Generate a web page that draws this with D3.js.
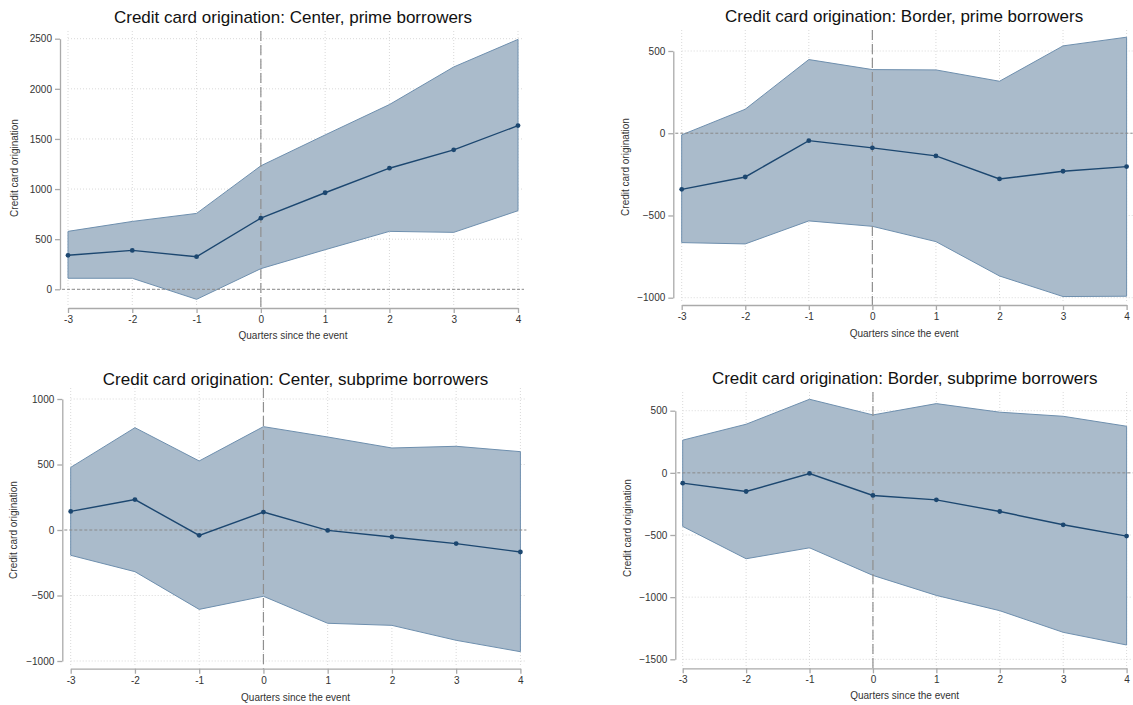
<!DOCTYPE html>
<html>
<head>
<meta charset="utf-8">
<script src="https://cdn.jsdelivr.net/npm/d3@7"></script>
<style>
	body { margin: 0; background: #fff; }
	svg { display: block; font-family: "Liberation Sans", Arial, sans-serif; }
	.tick text { fill: #333; font-size: 10px; }
</style>
</head>
<body>
<svg width="1133" height="705"></svg>
<script>
var quarters = [-3, -2, -1, 0, 1, 2, 3, 4];
var xTickLabels = ['-3', '-2', '-1', '0', '1', '2', '3', '4'];

var titles = [
	'Credit card origination: Center, prime borrowers',
	'Credit card origination: Border, prime borrowers',
	'Credit card origination: Center, subprime borrowers',
	'Credit card origination: Border, subprime borrowers'
];

var centerPrimeEst = [339, 388, 325, 710, 963, 1208, 1391, 1633];
var centerPrimeLo = [110, 110, -100, 206, 395, 578, 568, 784];
var centerPrimeHi = [578, 677, 757, 1232, 1540, 1843, 2218, 2493];
var centerPrimeTicks = [0, 500, 1000, 1500, 2000, 2500];

var borderPrimeEst = [-341, -266, -45, -89, -138, -278, -231, -203];
var borderPrimeLo = [-665, -673, -533, -566, -659, -868, -993, -991];
var borderPrimeHi = [-10, 146, 448, 387, 385, 316, 531, 584];
var borderPrimeTicks = [-1000, -500, 0, 500];

var centerSubEst = [142, 232, -41, 137, -3, -53, -104, -168];
var centerSubLo = [-193, -318, -606, -506, -712, -728, -842, -929];
var centerSubHi = [478, 781, 527, 789, 710, 626, 639, 598];
var centerSubTicks = [-1000, -500, 0, 500, 1000];

var borderSubEst = [-83, -150, -5, -182, -217, -311, -418, -509];
var borderSubLo = [-431, -691, -603, -825, -986, -1109, -1283, -1385];
var borderSubHi = [263, 391, 592, 466, 557, 488, 455, 375];
var borderSubTicks = [-1500, -1000, -500, 0, 500];

var xTitle = 'Quarters since the event';
var yTitle = 'Credit card origination';

// pixel layout of each panel
var layout = [
	{ x0: 68, x1: 518, yAxisX: 60, yTop: 38.7, yBot: 289.3, xAxisY: 308, plotTop: 31, titleY: 17, xTitleY: 335, yTitleX: 14, yTitleY: 168 },
	{ x0: 681.7, x1: 1126.6, yAxisX: 673.3, yTop: 51, yBot: 297.7, xAxisY: 305, plotTop: 30, titleY: 16, xTitleY: 333, yTitleX: 625, yTitleY: 167 },
	{ x0: 70.7, x1: 520.4, yAxisX: 62.3, yTop: 399, yBot: 661, xAxisY: 668.7, plotTop: 388, titleY: 379, xTitleY: 697, yTitleX: 13, yTitleY: 530 },
	{ x0: 682.7, x1: 1126.6, yAxisX: 675.3, yTop: 410.7, yBot: 659.3, xAxisY: 668.3, plotTop: 392, titleY: 378, xTitleY: 695, yTitleX: 627, yTitleY: 528 }
];

var panels = [
	{ est: centerPrimeEst, lo: centerPrimeLo, hi: centerPrimeHi, ticks: centerPrimeTicks },
	{ est: borderPrimeEst, lo: borderPrimeLo, hi: borderPrimeHi, ticks: borderPrimeTicks },
	{ est: centerSubEst, lo: centerSubLo, hi: centerSubHi, ticks: centerSubTicks },
	{ est: borderSubEst, lo: borderSubLo, hi: borderSubHi, ticks: borderSubTicks }
];

var navy = '#1c4770';
var svg = d3.select('svg');

panels.forEach(function (p, i) {
	var L = layout[i];
	var g = svg.append('g');

	var xScale = d3.scaleLinear().domain([quarters[0], quarters[quarters.length - 1]]).range([L.x0, L.x1]);
	var yScale = d3.scaleLinear().domain([d3.min(p.ticks), d3.max(p.ticks)]).range([L.yBot, L.yTop]);

	var rows = quarters.map(function (q, j) {
		return { q: q, est: p.est[j], lo: p.lo[j], hi: p.hi[j] };
	});

	var plotLeft = L.yAxisX + 2;
	var plotRight = L.x1 + 6;

	// grid
	g.selectAll('line.hgrid')
		.data(p.ticks)
		.enter()
		.append('line')
		.attr('x1', L.x0).attr('x2', plotRight)
		.attr('y1', function (d) { return yScale(d); })
		.attr('y2', function (d) { return yScale(d); })
		.attr('stroke', '#d9d9d9')
		.attr('stroke-dasharray', '1,2');

	g.selectAll('line.vgrid')
		.data(quarters)
		.enter()
		.append('line')
		.attr('x1', function (d) { return xScale(d); })
		.attr('x2', function (d) { return xScale(d); })
		.attr('y1', L.plotTop).attr('y2', L.xAxisY - 2)
		.attr('stroke', '#d9d9d9')
		.attr('stroke-dasharray', '1,2');

	// confidence band
	var area = d3.area()
		.x(function (d) { return xScale(d.q); })
		.y0(function (d) { return yScale(d.lo); })
		.y1(function (d) { return yScale(d.hi); });

	g.append('path')
		.datum(rows)
		.attr('d', area)
		.attr('fill', '#aabbcb')
		.attr('stroke', '#6e8fae')
		.attr('stroke-width', 1);

	// reference lines
	g.append('line')
		.attr('x1', plotLeft).attr('x2', plotRight)
		.attr('y1', yScale(0)).attr('y2', yScale(0))
		.attr('stroke', '#8a8a8a')
		.attr('stroke-width', 1)
		.attr('stroke-dasharray', '3,2');

	g.append('line')
		.attr('x1', xScale(0)).attr('x2', xScale(0))
		.attr('y1', L.plotTop).attr('y2', L.xAxisY)
		.attr('stroke', '#8f8f8f')
		.attr('stroke-width', 1.2)
		.attr('stroke-dasharray', '10,4');

	// point estimates
	var line = d3.line()
		.x(function (d) { return xScale(d.q); })
		.y(function (d) { return yScale(d.est); });

	g.append('path')
		.datum(rows)
		.attr('d', line)
		.attr('fill', 'none')
		.attr('stroke', navy)
		.attr('stroke-width', 1.4);

	g.selectAll('circle')
		.data(rows)
		.enter()
		.append('circle')
		.attr('cx', function (d) { return xScale(d.q); })
		.attr('cy', function (d) { return yScale(d.est); })
		.attr('r', 2.4)
		.attr('fill', navy);

	// axes
	var xAxis = d3.axisBottom(xScale)
		.tickValues(quarters)
		.tickFormat(function (d, j) { return xTickLabels[j]; })
		.tickSize(5)
		.tickPadding(3)
		.tickSizeOuter(0);

	var yAxis = d3.axisLeft(yScale)
		.tickValues(p.ticks)
		.tickFormat(d3.format('d'))
		.tickSize(5)
		.tickPadding(3)
		.tickSizeOuter(0);

	var xg = g.append('g')
		.attr('transform', 'translate(0,' + L.xAxisY + ')')
		.call(xAxis);

	var yg = g.append('g')
		.attr('transform', 'translate(' + L.yAxisX + ',0)')
		.call(yAxis);

	[xg, yg].forEach(function (ax) {
		ax.select('.domain').attr('stroke', '#aaaaaa').attr('stroke-width', 1.3);
		ax.selectAll('.tick line').attr('stroke', '#aaaaaa').attr('stroke-width', 1.3);
		ax.selectAll('.tick text').attr('font-family', '"Liberation Sans", Arial, sans-serif').attr('font-size', 10);
	});

	// titles
	g.append('text')
		.attr('x', (L.x0 + L.x1) / 2)
		.attr('y', L.titleY)
		.attr('dy', '0.35em')
		.attr('text-anchor', 'middle')
		.attr('font-size', 17)
		.attr('fill', '#111')
		.text(titles[i]);

	g.append('text')
		.attr('x', (L.x0 + L.x1) / 2)
		.attr('y', L.xTitleY)
		.attr('dy', '0.35em')
		.attr('text-anchor', 'middle')
		.attr('font-size', 10)
		.attr('fill', '#333')
		.text(xTitle);

	g.append('text')
		.attr('transform', 'translate(' + L.yTitleX + ',' + L.yTitleY + ') rotate(-90)')
		.attr('dy', '0.35em')
		.attr('text-anchor', 'middle')
		.attr('font-size', 10)
		.attr('fill', '#333')
		.text(yTitle);
});
</script>
</body>
</html>
